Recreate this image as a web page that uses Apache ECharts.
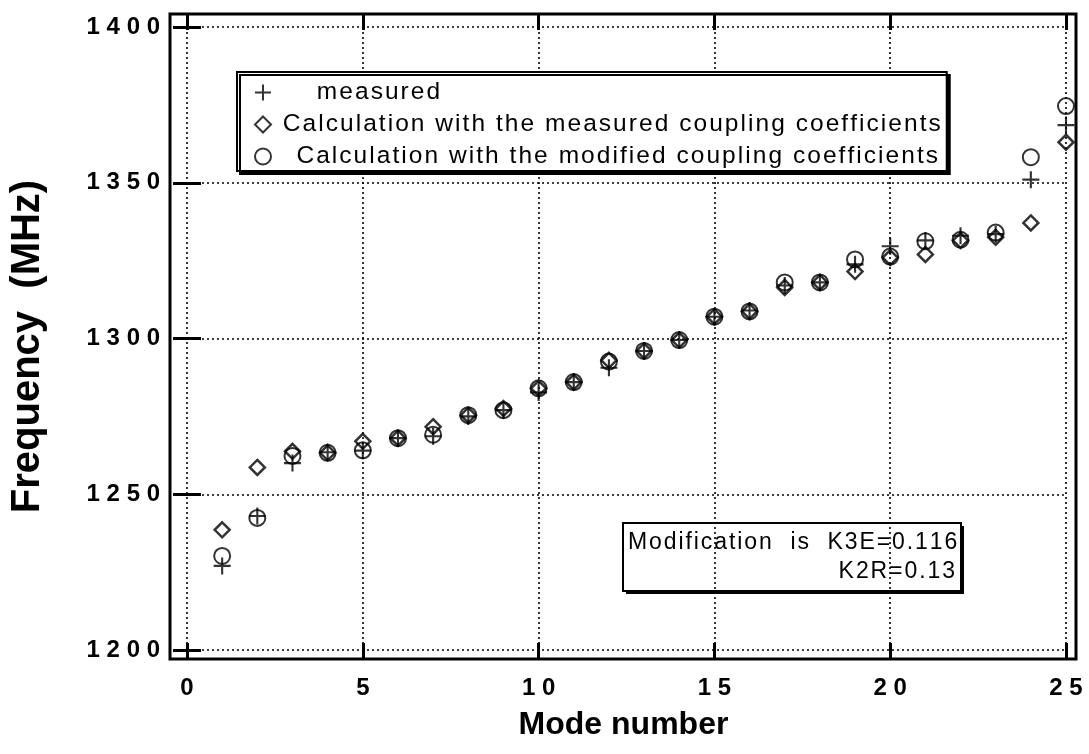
<!DOCTYPE html>
<html>
<head>
<meta charset="utf-8">
<script src="https://cdn.jsdelivr.net/npm/echarts@6/dist/echarts.min.js"></script>
<style>
html,body{margin:0;padding:0;background:#fff;}
#chart{width:1089px;height:754px;}
</style>
</head>
<body>
<div id="chart"></div>
<script>
// ---- data ----
const modes = [1,2,3,4,5,6,7,8,9,10,11,12,13,14,15,16,17,18,19,20,21,22,23,24,25];
const measured = [1227,1243,1260,1263.5,1264,1268,1268.6,1275,1277,1282.7,1286,1290.6,1296,1299.5,1307,1309,1317,1318,1323.8,1329.6,1331.5,1333,1333.5,1351,1368.5];
const calcMeasuredCoupling = [1238.6,1258.6,1263.8,1263.3,1267,1268,1271.7,1275.4,1277.5,1284,1286,1293,1296,1299.5,1307,1308.7,1316.4,1318,1321.5,1326,1327,1331.5,1332.5,1337.1,1363];
const calcModifiedCoupling = [1230.2,1242.4,1262.3,1263.3,1264.1,1268,1269.1,1275.4,1277,1284,1286,1292.6,1296,1299.5,1307,1308.7,1318,1318,1325.4,1326.3,1331.2,1331.7,1334,1358.2,1374.6];
const seriesNames = ['measured','Calculation with the measured coupling coefficients','Calculation with the modified coupling coefficients'];
const xTitle = 'Mode number';
const yTitle = 'Frequency  (MHz)';
const noteLines = ['Modification  is  K3E=0.116','K2R=0.13'];

function pairs(ys){ return modes.map((m,i)=>[m, ys[i]]); }
const spaced = v => String(v).split('').join(' ');
const track = s => s.split('').join('\u200A');
const FONT = '"Liberation Sans", Arial, Helvetica, sans-serif';
const plusPath = 'path://M7,0h2v7h7v2h-7v7h-2v-7h-7v-2h7z';

const chart = echarts.init(document.getElementById('chart'));
const dotted = {show:true, lineStyle:{color:'#000', type:[2,3], width:1.6}};
const tick = (len)=>({show:true, inside:true, length:len, lineStyle:{color:'#000', width:3}});
const labelStyle = {color:'#000', fontFamily:FONT, fontWeight:'bold', fontSize:24};

const legendPad = {};
legendPad[seriesNames[0]] = '      ';
legendPad[seriesNames[1]] = ' ';
legendPad[seriesNames[2]] = '   ';

chart.setOption({
  animation:false,
  backgroundColor:'#fff',
  grid:{left:182, right:23, top:27, bottom:104, containLabel:false},
  xAxis:[
    {type:'value', position:'bottom', min:0, max:25, interval:5, offset:9,
     axisLine:{show:false}, axisTick:tick(16), splitLine:dotted,
     axisLabel:Object.assign({margin:17, formatter:spaced}, labelStyle),
     name:xTitle, nameLocation:'middle', nameGap:50,
     nameTextStyle:{color:'#000', fontFamily:FONT, fontWeight:'bold', fontSize:32, padding:[0,6,0,0]}},
    {type:'value', position:'top', min:0, max:25, interval:5, offset:13,
     axisLine:{show:false}, axisTick:tick(16), splitLine:{show:false}, axisLabel:{show:false}}
  ],
  yAxis:[
    {type:'value', position:'left', min:1200, max:1400, interval:50, offset:12,
     axisLine:{show:false}, axisTick:tick(14), splitLine:dotted,
     axisLabel:Object.assign({margin:15, formatter:spaced}, labelStyle),
     name:yTitle, nameLocation:'middle', nameGap:127, nameRotate:90,
     nameTextStyle:{color:'#000', fontFamily:FONT, fontWeight:'bold', fontSize:40, padding:[0,16,0,0]}},
    {type:'value', position:'right', min:1200, max:1400, interval:50, offset:10,
     axisLine:{show:false}, axisTick:tick(14), splitLine:{show:false}, axisLabel:{show:false}}
  ],
  legend:{
    orient:'vertical', left:237, top:72,
    data:seriesNames,
    formatter:n=>legendPad[n]+track(n),
    itemWidth:16, itemHeight:16, itemGap:7,
    padding:[8,6,2,17],
    backgroundColor:'#fff', borderColor:'#000', borderWidth:2,
    shadowColor:'#000', shadowOffsetX:3, shadowOffsetY:3, shadowBlur:0,
    textStyle:{color:'#000', fontFamily:FONT, fontSize:24.5},
    selectedMode:false
  },
  series:[
    {name:seriesNames[1], type:'scatter', data:pairs(calcMeasuredCoupling), symbol:'diamond', symbolSize:15,
     itemStyle:{color:'rgba(255,255,255,0)', borderColor:'#000', borderWidth:2.5}, z:3},
    {name:seriesNames[2], type:'scatter', data:pairs(calcModifiedCoupling), symbol:'circle', symbolSize:16,
     itemStyle:{color:'rgba(255,255,255,0)', borderColor:'#000', borderWidth:2}, z:4},
    {name:seriesNames[0], type:'scatter', data:pairs(measured), symbol:plusPath, symbolSize:17,
     itemStyle:{color:'#000'}, z:5}
  ],
  graphic:[
    {type:'rect', shape:{x:170, y:14, width:906, height:645}, style:{fill:'none', stroke:'#000', lineWidth:3}, z:10},
    {type:'group', left:622, top:522, children:[
      {type:'rect', shape:{x:3, y:3, width:338, height:68}, style:{fill:'#000'}},
      {type:'rect', shape:{x:0, y:0, width:338, height:68}, style:{fill:'#fff', stroke:'#000', lineWidth:2}},
      {type:'text', x:5, y:8, style:{text:track(noteLines[0]), fill:'#000', font:'23px '+FONT}},
      {type:'text', x:332, y:37, style:{text:track(noteLines[1]), fill:'#000', font:'23px '+FONT, align:'right'}}
    ], z:20}
  ]
});
</script>
</body>
</html>
